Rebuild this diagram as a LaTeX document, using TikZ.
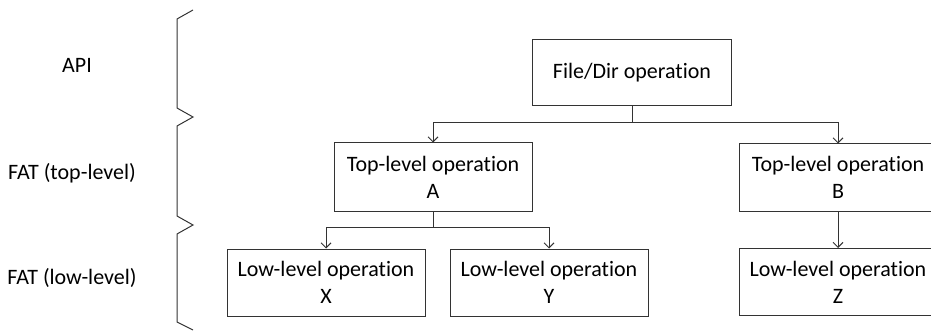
\documentclass[tikz,border=0pt]{standalone}
\usepackage{fontspec}
\setmainfont{Carlito}[Ligatures=NoCommon]
\usetikzlibrary{arrows.meta}
\begin{document}
\begin{tikzpicture}[x=1pt,y=-1pt,
  line width=1pt,
  opbox/.style={draw=black!80, line width=1pt, minimum width=198pt, minimum height=67pt,
    align=center, inner sep=0pt, font=\fontsize{22}{26.8}\selectfont},
  layer/.style={font=\fontsize{22}{26.8}\selectfont, inner sep=0pt},
  link/.style={draw=black!80, line width=1pt},
  arr/.style={link, -{Straight Barb[length=5pt,width=10pt]}}]
  \useasboundingbox (0,0) rectangle (931,331);
  \clip (0,0) rectangle (931,331);

  % layer labels
  \node[layer] (api) at (77,65) {API};
  \node[layer] (fattop) at (72,173) {FAT (top-level)};
  \node[layer] (fatlow) at (72,278) {FAT (low-level)};

  % zigzag braces separating the layers
  \draw[link] (193,10) -- (177,19) -- (177,108) -- (193,117) -- (177,126)
    -- (177,216) -- (193,225) -- (177,234) -- (177,322) -- (193,330);

  % operation boxes
  \node[opbox, minimum width=199pt, minimum height=66pt] (fd) at (632,73) {File/Dir operation};
  \node[opbox, minimum height=68pt] (ta) at (433,177) {Top-level operation\\A};
  \node[opbox] (tb) at (838,177.5) {Top-level operation\\B};
  \node[opbox] (lx) at (326,282.5) {Low-level operation\\X};
  \node[opbox] (ly) at (549,282.5) {Low-level operation\\Y};
  \node[opbox] (lz) at (838,282) {Low-level operation\\Z};

  % connectors
  \draw[link] (fd.south) -- ++(0,16) coordinate (j1);
  \draw[arr] (j1) -| (ta.north);
  \draw[arr] (j1) -| (tb.north);
  \draw[link] (ta.south) -- ++(0,16) coordinate (j2);
  \draw[arr] (j2) -| (lx.north);
  \draw[arr] (j2) -| (ly.north);
  \draw[arr] (tb.south) -- (lz.north);
\end{tikzpicture}
\end{document}
